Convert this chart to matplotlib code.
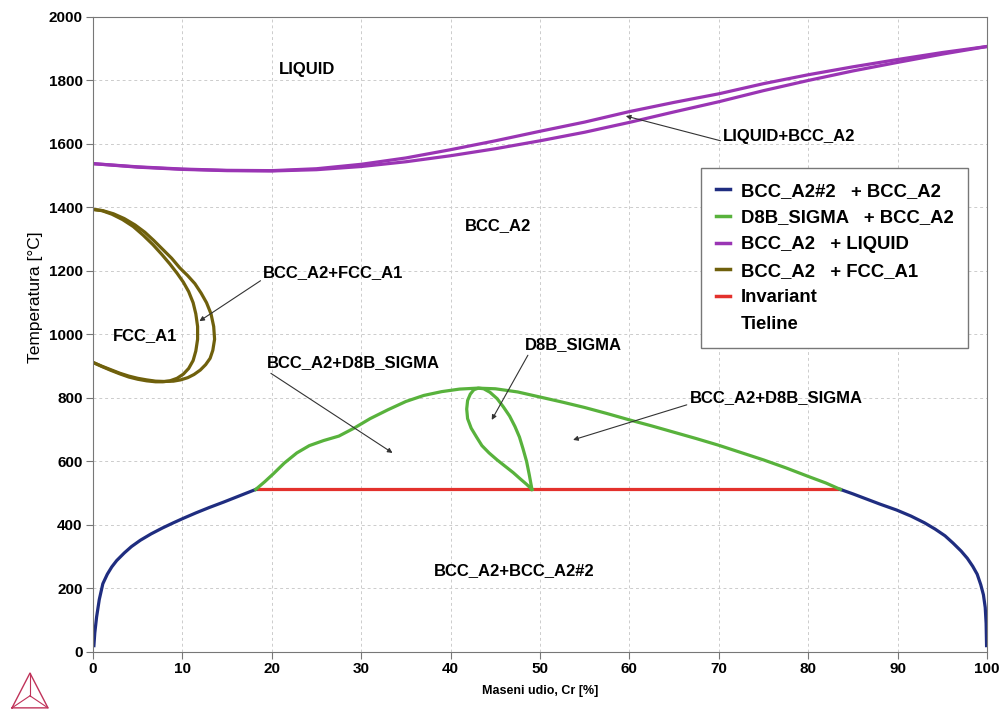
import numpy as np
import matplotlib.pyplot as plt
from matplotlib.lines import Line2D

plt.rcParams['font.family'] = ['Liberation Sans', 'DejaVu Sans']

# --- data (wt% Cr, temperature in C) ---
liq_x = [0, 5, 10, 15, 20, 25, 30, 35, 40, 45, 50, 55, 60, 65, 70, 75, 80, 85, 90, 95, 100]
liq_y = [1538, 1528, 1521, 1517, 1516, 1522, 1536, 1556, 1582, 1610, 1640, 1669, 1702, 1731, 1758, 1790, 1818, 1843, 1866, 1888, 1907]
sol_x = [0, 5, 10, 15, 20, 25, 30, 35, 40, 45, 50, 55, 60, 65, 70, 75, 80, 85, 90, 95, 100]
sol_y = [1538, 1527, 1520, 1516, 1515, 1519, 1529, 1544, 1563, 1585, 1610, 1637, 1668, 1701, 1733, 1768, 1800, 1830, 1857, 1883, 1907]

gam_out_x = [0, 1, 2, 3, 4, 5, 6, 7, 8, 9, 9.8, 10.6, 11.3, 12.0, 12.6, 13.1, 13.4, 13.6, 13.5, 13.2,
             12.7, 12.1, 11.4, 10.6, 9.7, 8.8, 7.8, 6.8, 5.8, 4.7, 3.5, 2.3, 1.1, 0]
gam_out_y = [912, 900, 889, 878, 869, 862, 857, 853, 852, 853, 857, 864, 874, 888, 905, 925, 950, 985, 1025, 1065,
             1100, 1130, 1160, 1185, 1210, 1240, 1268, 1296, 1322, 1345, 1365, 1380, 1390, 1394]
gam_in_x = [0, 1, 2, 3, 4, 5, 6, 7, 7.8, 8.6, 9.4, 10.1, 10.7, 11.2, 11.5, 11.7, 11.7, 11.5, 11.2,
            10.7, 10.1, 9.4, 8.6, 7.7, 6.7, 5.6, 4.5, 3.3, 2.1, 1.0, 0]
gam_in_y = [912, 899, 887, 876, 866, 859, 854, 851, 851, 854, 862, 875, 893, 918, 948, 985, 1025, 1065, 1100,
            1135, 1165, 1193, 1222, 1252, 1283, 1313, 1340, 1362, 1379, 1390, 1394]

sig_x = [18.2, 19.2, 20.2, 21.4, 22.8, 24.2, 25.8, 27.5, 29.2, 31.0, 33.0, 35.0, 37.0, 39.0, 41.0, 43.0,
         45.0, 47.5, 50.0, 52.5, 55.0, 57.5, 60.0, 62.5, 65.0, 67.5, 70.0, 72.5, 75.0, 77.5, 80.0, 82.0, 83.6]
sig_y = [512, 536, 562, 595, 627, 650, 666, 680, 705, 735, 763, 789, 808, 820, 828, 831,
         829, 819, 803, 787, 770, 751, 731, 712, 692, 672, 651, 628, 605, 580, 553, 532, 512]
lens_x = [49.1, 48.5, 47.8, 47.0, 46.1, 45.2, 44.3, 43.5, 42.9, 42.3, 41.9, 41.8, 41.9, 42.2, 42.6, 43.1,
          43.7, 44.4, 45.2, 45.9, 46.6, 47.2, 47.7, 48.1, 48.5, 48.8, 49.1]
lens_y = [512, 528, 545, 565, 585, 605, 627, 650, 677, 705, 735, 765, 792, 812, 826, 831,
          829, 818, 798, 772, 743, 710, 677, 640, 600, 558, 512]

gap_l_x = [0.1, 0.2, 0.4, 0.7, 1.1, 1.6, 2.1, 2.65, 3.5, 4.3, 5.3, 6.5, 7.8, 9.0, 10.1, 11.5, 13.0, 14.6, 16.4, 18.2]
gap_l_y = [20, 60, 110, 165, 215, 245, 268, 288, 312, 332, 352, 372, 391, 407, 421, 438, 455, 472, 492, 512]
gap_r_x = [83.6, 85.0, 86.5, 88.0, 89.9, 91.5, 93.0, 94.2, 95.3, 96.2, 97.1, 97.8, 98.4, 98.9, 99.3, 99.6, 99.8, 99.9, 99.95]
gap_r_y = [512, 498, 482, 466, 447, 428, 407, 387, 366, 343, 318, 295, 270, 245, 212, 180, 140, 90, 20]

inv_x = [18.2, 83.6]
inv_y = [512, 512]

labels = ["BCC_A2#2   + BCC_A2", "D8B_SIGMA   + BCC_A2", "BCC_A2   + LIQUID",
          "BCC_A2   + FCC_A1", "Invariant", "Tieline"]
colors = ["#1f2d80", "#58b23c", "#9a35b4", "#6f600c", "#e3312c", "white"]

fig = plt.figure(figsize=(9.99, 7.10), dpi=100)
ax = fig.add_axes([0.0931, 0.0817, 0.8949, 0.8944])

lw = 2.3
ax.plot(inv_x, inv_y, color=colors[4], lw=lw)
ax.plot(gap_l_x, gap_l_y, color=colors[0], lw=lw)
ax.plot(gap_r_x, gap_r_y, color=colors[0], lw=lw)
ax.plot(sig_x, sig_y, color=colors[1], lw=lw)
ax.plot(lens_x, lens_y, color=colors[1], lw=lw)
ax.plot(liq_x, liq_y, color=colors[2], lw=lw)
ax.plot(sol_x, sol_y, color=colors[2], lw=lw)
ax.plot(gam_out_x, gam_out_y, color=colors[3], lw=lw)
ax.plot(gam_in_x, gam_in_y, color=colors[3], lw=lw)

ax.set_xlim(0, 100)
ax.set_ylim(0, 2000)
ax.set_xticks(np.arange(0, 101, 10))
ax.set_yticks(np.arange(0, 2001, 200))
ax.grid(True, ls=(0, (3, 3)), color="#cccccc", lw=0.7)
ax.set_axisbelow(True)
for s in ax.spines.values():
    s.set_color("#777777")
ax.tick_params(direction="out", length=5, color="#777777", labelsize=11, pad=2.5)
for t in ax.get_xticklabels() + ax.get_yticklabels():
    t.set_fontweight("bold")

ax.set_xlabel("Maseni udio, Cr [%]", fontsize=9, fontweight="bold", labelpad=6)
ax.set_ylabel("Temperatura [°C]", fontsize=12.5)
ax.yaxis.set_label_coords(-0.056, 0.559)

tk = dict(fontsize=12, fontweight="bold", ha="center", va="center")
ax.text(23.9, 1833, "LIQUID", **tk)
ax.text(45.3, 1342, "BCC_A2", **tk)
ax.text(5.8, 998, "FCC_A1", **tk)
ax.text(47.1, 255, "BCC_A2+BCC_A2#2", **tk)

arr = dict(arrowstyle="-|>", color="#333333", lw=0.8, mutation_scale=7, shrinkA=0, shrinkB=0)
ax.annotate("BCC_A2+FCC_A1", xy=(11.9, 1042), xytext=(26.9, 1194),
            arrowprops=dict(arr, relpos=(0, 0.1)), **tk)
ax.annotate("LIQUID+BCC_A2", xy=(59.6, 1688), xytext=(77.9, 1622),
            arrowprops=dict(arr, relpos=(0, 0.2)), **tk)
ax.annotate("D8B_SIGMA", xy=(44.6, 731), xytext=(53.7, 967),
            arrowprops=dict(arr, relpos=(0.05, 0)), **tk)
ax.annotate("BCC_A2+D8B_SIGMA", xy=(53.7, 668), xytext=(76.4, 800),
            arrowprops=dict(arr, relpos=(0, 0.1)), **tk)
ax.annotate("BCC_A2+D8B_SIGMA", xy=(33.5, 627), xytext=(29.1, 910),
            arrowprops=dict(arr, relpos=(0.0, 0.0)), **tk)

handles = [Line2D([], [], color=c, lw=2.5) for c in colors]
leg = ax.legend(handles, labels, loc="upper left", bbox_to_anchor=(0.680, 0.762),
                borderaxespad=0, handlelength=0.8, handletextpad=0.55, labelspacing=0.52,
                fancybox=False, edgecolor="#777777", framealpha=1,
                prop=dict(size=13.3, weight="bold"), borderpad=0.8)
leg.get_frame().set_linewidth(1.0)

# small triangle logo, bottom left
lc = "#c0335a"
tri = [(0.012, 0.003), (0.048, 0.003), (0.030, 0.052), (0.012, 0.003)]
fig.add_artist(Line2D([p[0] for p in tri], [p[1] for p in tri], color=lc, lw=1.0))
for p in tri[:3]:
    fig.add_artist(Line2D([p[0], 0.030], [p[1], 0.020], color=lc, lw=0.8))

fig.savefig("out.png", dpi=100)
